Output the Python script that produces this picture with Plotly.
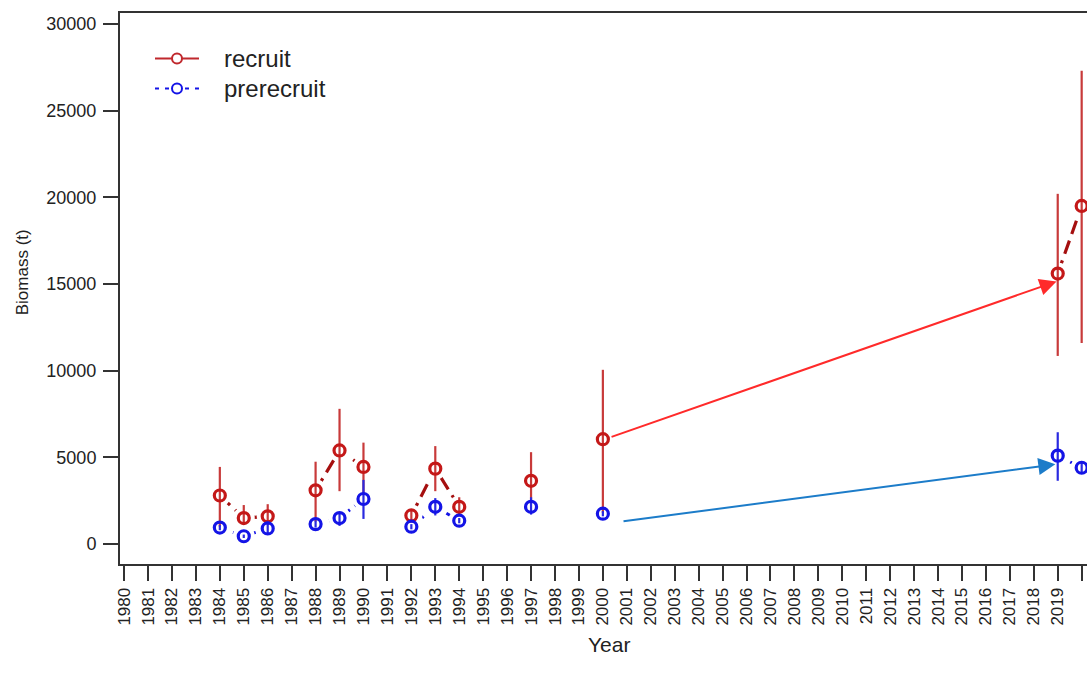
import plotly.graph_objects as go

# ---------------- data ----------------
years_recruit = [1984, 1985, 1986, None, 1988, 1989, 1990, None, 1992, 1993, 1994, None, 1997, None, 2000, None, 2019, 2020]
recruit = [2800, 1500, 1600, None, 3100, 5400, 4450, None, 1650, 4350, 2150, None, 3650, None, 6050, None, 15600, 19500]
recruit_lo = [1000, 1100, 1100, None, 1300, 3050, 2900, None, 1300, 3050, 1700, None, 2400, None, 1800, None, 10850, 11600]
recruit_hi = [4450, 2250, 2300, None, 4750, 7800, 5850, None, 1950, 5650, 2700, None, 5300, None, 10050, None, 20200, 27300]

years_pre = [1984, 1985, 1986, None, 1988, 1989, 1990, None, 1992, 1993, 1994, None, 1997, None, 2000, None, 2019, 2020]
prerecruit = [950, 450, 900, None, 1150, 1500, 2600, None, 1000, 2150, 1350, None, 2150, None, 1750, None, 5100, 4400]
pre_lo = [800, 350, 550, None, 950, 1050, 1450, None, 850, 1650, 1200, None, 1700, None, 1600, None, 3650, 4100]
pre_hi = [1100, 550, 1300, None, 1350, 1850, 3700, None, 1150, 2650, 1500, None, 2700, None, 1900, None, 6450, 4700]

tick_years = list(range(1980, 2021))
y_ticks = [0, 5000, 10000, 15000, 20000, 25000, 30000]

# arrows: (year, value) start -> end
red_arrow = [(2000.3, 6150), (2018.95, 15150)]
blue_arrow = [(2000.8, 1300), (2018.9, 4600)]

legend_names = ["recruit", "prerecruit"]

RED_PT = "#C41818"
RED_LINE = "#A50F0F"
RED_ERR = "#C83A3A"
BLUE_PT = "#1414E6"
BLUE_ERR = "#2A2AE0"
FONT = "Liberation Sans, Arial, sans-serif"
TXT = "#222222"


def errs(vals, lo, hi):
    plus = [None if v is None else h - v for v, h in zip(vals, hi)]
    minus = [None if v is None else v - l for v, l in zip(vals, lo)]
    return plus, minus


fig = go.Figure()

# dashed connecting lines
fig.add_trace(go.Scatter(x=years_recruit, y=recruit, mode="lines", connectgaps=False,
                         line=dict(color=RED_LINE, width=3.2, dash="14px,7px"),
                         showlegend=False, hoverinfo="skip"))
fig.add_trace(go.Scatter(x=years_pre, y=prerecruit, mode="lines", connectgaps=False,
                         line=dict(color=BLUE_PT, width=3, dash="8px,6px,2px,6px"),
                         showlegend=False, hoverinfo="skip"))

# white halos (type="b" gaps)
for xs, ys in [(years_recruit, recruit), (years_pre, prerecruit)]:
    fig.add_trace(go.Scatter(x=xs, y=ys, mode="markers",
                             marker=dict(symbol="circle", size=22, color="white",
                                         line=dict(width=0)),
                             showlegend=False, hoverinfo="skip"))

# error bars + points
rp, rm = errs(recruit, recruit_lo, recruit_hi)
bp, bm = errs(prerecruit, pre_lo, pre_hi)
fig.add_trace(go.Scatter(x=years_recruit, y=recruit, mode="markers", name=legend_names[0],
                         marker=dict(symbol="circle-open", size=11, color=RED_PT,
                                     line=dict(width=3.2, color=RED_PT)),
                         error_y=dict(type="data", symmetric=False, array=rp, arrayminus=rm,
                                      color=RED_ERR, thickness=2.2, width=0),
                         showlegend=False))
fig.add_trace(go.Scatter(x=years_pre, y=prerecruit, mode="markers", name=legend_names[1],
                         marker=dict(symbol="circle-open", size=11, color=BLUE_PT,
                                     line=dict(width=3.2, color=BLUE_PT)),
                         error_y=dict(type="data", symmetric=False, array=bp, arrayminus=bm,
                                      color=BLUE_ERR, thickness=2.2, width=0),
                         showlegend=False))

# body margin is removed (see post_script) -> page pixels == figure pixels
W, H = 1087, 682
PLOT_L, PLOT_T, PLOT_B = 120, 12.5, 564   # page pixel positions of the box
L, T, R = PLOT_L, PLOT_T, 0
B = H - PLOT_B
pw, ph = W - L - R, H - T - B


def px_x(px):
    return (px - L) / pw


def px_y(py):
    return (H - B - py) / ph


annotations = [
    dict(x=red_arrow[1][0], y=red_arrow[1][1], ax=red_arrow[0][0], ay=red_arrow[0][1],
         xref="x", yref="y", axref="x", ayref="y", showarrow=True, text="",
         arrowhead=2, arrowsize=1.7, arrowwidth=2, arrowcolor="#FF2A2A"),
    dict(x=blue_arrow[1][0], y=blue_arrow[1][1], ax=blue_arrow[0][0], ay=blue_arrow[0][1],
         xref="x", yref="y", axref="x", ayref="y", showarrow=True, text="",
         arrowhead=2, arrowsize=1.7, arrowwidth=2, arrowcolor="#1C7CC9"),
    dict(x=px_x(609), y=px_y(645), xref="paper", yref="paper", text="Year", showarrow=False,
         font=dict(family=FONT, size=21, color=TXT), xanchor="center", yanchor="middle"),
    dict(x=px_x(22), y=px_y(272), xref="paper", yref="paper", text="Biomass (t)", showarrow=False,
         textangle=-90, font=dict(family=FONT, size=17, color=TXT),
         xanchor="center", yanchor="middle"),
]

# manual legend
shapes = []
leg_rows = [(58, "solid", "#C0282D"), (88, "4px,6px", BLUE_PT)]
for (py, dash, lcol), name in zip(leg_rows, legend_names):
    shapes.append(dict(type="line", xref="paper", yref="paper",
                       x0=px_x(155), x1=px_x(199), y0=px_y(py), y1=px_y(py),
                       line=dict(color=lcol, width=2, dash=dash)))
    shapes.append(dict(type="circle", xref="paper", yref="paper",
                       xsizemode="pixel", ysizemode="pixel",
                       xanchor=px_x(177), yanchor=px_y(py), x0=-5, x1=5, y0=-5, y1=5,
                       fillcolor="white", line=dict(color=lcol, width=2)))
    annotations.append(dict(x=px_x(222), y=px_y(py), xref="paper", yref="paper", text=name,
                            showarrow=False, xanchor="left", yanchor="middle",
                            font=dict(family=FONT, size=24, color=TXT)))

fig.update_layout(
    width=W, height=H,
    margin=dict(l=L, r=R, t=T, b=B),
    paper_bgcolor="white", plot_bgcolor="white",
    font=dict(family=FONT, color=TXT),
    annotations=annotations,
    shapes=shapes,
    showlegend=False,
    xaxis=dict(range=[1979.83, 1979.83 + pw / 23.94], tickmode="array", tickvals=tick_years,
               ticktext=[str(t) for t in tick_years], tickangle=-90,
               ticks="outside", ticklen=15, tickwidth=2, tickcolor="#333333",
               showline=True, linecolor="#333333", linewidth=2, mirror=True,
               showgrid=False, zeroline=False,
               tickfont=dict(family=FONT, size=17, color=TXT)),
    yaxis=dict(range=[-1150, 30630], tickmode="array", tickvals=y_ticks,
               ticktext=[str(t) for t in y_ticks],
               ticks="outside", ticklen=15, tickwidth=2, tickcolor="#333333",
               showline=True, linecolor="#333333", linewidth=2, mirror=False,
               showgrid=False, zeroline=False, ticklabelstandoff=3,
               tickfont=dict(family=FONT, size=18, color=TXT)),
)

fig.write_html(
    "out.html", config={"displayModeBar": False},
    post_script="document.body.style.margin='0';document.body.style.overflow='hidden';",
)
